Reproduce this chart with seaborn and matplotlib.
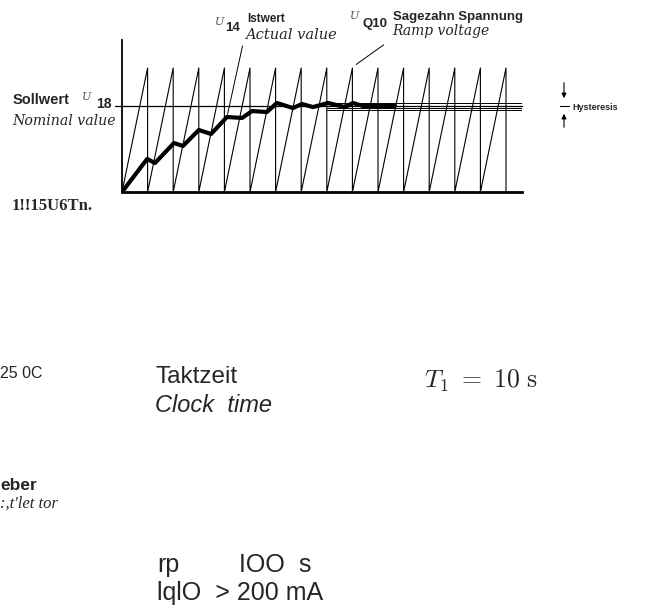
import matplotlib
matplotlib.use("Agg")
import matplotlib.pyplot as plt
import numpy as np
import pandas as pd
import seaborn as sns

sns.set_theme(style="white")
plt.rcParams['font.family'] = ['Liberation Sans', 'DejaVu Sans']
plt.rcParams['mathtext.fontset'] = 'cm'

# clock periods (t in units of T1) and ramp peak height (1.0 = ramp amplitude)
clock_t = [1, 2, 3, 4, 5, 6, 7, 8, 9, 10, 11, 12, 13, 14, 15]
ramp_peak = [1.0, 1.0, 1.0, 1.0, 1.0, 1.0, 1.0, 1.0, 1.0, 1.0, 1.0, 1.0, 1.0, 1.0, 1.0]

# actual value U14
actual_t = [0.0, 0.98, 1.29, 2.03, 2.38, 3.0, 3.48, 4.1, 4.69, 5.08, 5.66,
            6.05, 6.68, 7.03, 7.46, 8.05, 8.71, 9.02, 9.41, 10.66]
actual_v = [0.0, 0.266, 0.234, 0.395, 0.371, 0.5, 0.468, 0.605, 0.597, 0.653, 0.645,
            0.718, 0.677, 0.71, 0.685, 0.718, 0.685, 0.718, 0.694, 0.694]

setpoint = 0.694
hyst_levels = [0.715, 0.680, 0.662]
hyst_start = 8.0
t_end = 15.625

W, H = 655, 614


def fx(x):
    return x / W


def fy(y):
    return 1 - y / H


fig = plt.figure(figsize=(6.55, 6.14), dpi=100)
ax = fig.add_axes([fx(122), fy(192), fx(522) - fx(122), fy(40) - fy(192)])

# sawtooth path built from the clock list
rows = []
prev = 0
for t, p in zip(clock_t, ramp_peak):
    rows.append((prev, 0.0))
    rows.append((t, p))
    rows.append((t, 0.0))
    prev = t
saw = pd.DataFrame(rows, columns=["t", "v"])
sns.lineplot(data=saw, x="t", y="v", sort=False, estimator=None, color="black",
             lw=0.8, ax=ax)

# set point and hysteresis band
ax.plot([-0.27, t_end], [setpoint, setpoint], color="black", lw=0.9, clip_on=False)
for lv in hyst_levels:
    ax.plot([hyst_start, t_end], [lv, lv], color="black", lw=0.7)

act = pd.DataFrame({"t": actual_t, "v": actual_v})
sns.lineplot(data=act, x="t", y="v", sort=False, estimator=None, color="black",
             lw=3.0, ax=ax)

ax.set_xlim(0, t_end)
ax.set_ylim(0, 1.226)
ax.set_xticks([])
ax.set_yticks([])
ax.set_xlabel("")
ax.set_ylabel("")
for s in ["top", "right"]:
    ax.spines[s].set_visible(False)
ax.spines["left"].set_color("black")
ax.spines["left"].set_linewidth(1.3)
ax.spines["bottom"].set_color("black")
ax.spines["bottom"].set_linewidth(2.0)
ax.patch.set_alpha(0)

# leader lines
ax.annotate("", xy=(4.1, 0.605), xytext=(4.73, 1.2),
            arrowprops=dict(arrowstyle="-", color="black", lw=0.7))
ax.annotate("", xy=(9.06, 1.016), xytext=(10.31, 1.2),
            arrowprops=dict(arrowstyle="-", color="black", lw=0.7))

# labels around the chart
fig.text(fx(215), fy(22), "U", family="DejaVu Serif", style="italic", fontsize=8,
         color="#555555", va="center")
fig.text(fx(225), fy(28), "14", fontsize=9.5, weight="bold", va="center")
fig.text(fx(247), fy(19), "Istwert", fontsize=8.5, weight="bold", va="center")
fig.text(fx(245), fy(35), "Actual value", family="DejaVu Serif", style="italic",
         fontsize=10.5, va="center")

fig.text(fx(350), fy(16), "U", family="DejaVu Serif", style="italic", fontsize=8,
         color="#555555", va="center")
fig.text(fx(362), fy(24), "Q10", fontsize=9.5, weight="bold", va="center")
fig.text(fx(393), fy(17), "Sagezahn Spannung", fontsize=9.5, weight="bold", va="center")
fig.text(fx(392), fy(31), "Ramp voltage", family="DejaVu Serif", style="italic",
         fontsize=10, va="center")

fig.text(fx(13), fy(100), "Sollwert", fontsize=10.5, weight="bold", va="center")
fig.text(fx(82), fy(97), "U", family="DejaVu Serif", style="italic", fontsize=8,
         color="#555555", va="center")
fig.text(fx(96), fy(104), "18", fontsize=10, weight="bold", va="center")
fig.text(fx(12), fy(121), "Nominal value", family="DejaVu Serif", style="italic",
         fontsize=10.2, va="center")

# hysteresis marker
fig.add_artist(matplotlib.patches.FancyArrowPatch((fx(564), fy(80)), (fx(564), fy(101)),
               transform=fig.transFigure, arrowstyle="-|>", mutation_scale=7,
               color="black", lw=0.8))
fig.add_artist(matplotlib.patches.FancyArrowPatch((fx(564), fy(130)), (fx(564), fy(111)),
               transform=fig.transFigure, arrowstyle="-|>", mutation_scale=7,
               color="black", lw=0.8))
fig.add_artist(plt.Line2D([fx(560), fx(569)], [fy(106), fy(106)], color="black", lw=0.8))
fig.text(fx(572), fy(107), "Hysteresis", fontsize=6.5, weight="bold", va="center")

fig.text(fx(12), fy(206), "1!!15U6Tn.", family="Liberation Serif", fontsize=12,
         weight="bold", va="center")

# text block below the chart
fig.text(fx(0), fy(374), "25 0C", fontsize=11.5, va="center")
fig.text(fx(155), fy(377), "Taktzeit", fontsize=17.5, va="center")
fig.text(fx(155), fy(406), "Clock  time", fontsize=17, style="italic", va="center")
fig.text(fx(424), fy(381), r"$T_1\ =\ 10\ \mathrm{s}$", fontsize=18.5, va="center")

fig.text(fx(0), fy(485), "eber", fontsize=12.5, weight="bold", va="center")
fig.text(fx(0), fy(504), ":,t'let tor", family="Liberation Serif", style="italic",
         fontsize=12, va="center")

fig.text(fx(157), fy(565), "rp", fontsize=18, va="center")
fig.text(fx(239), fy(565), "IOO  s", fontsize=18, va="center")
fig.text(fx(157), fy(593), "lqlO  > 200 mA", fontsize=18, va="center")

fig.savefig("out.png", dpi=100, facecolor="white")
